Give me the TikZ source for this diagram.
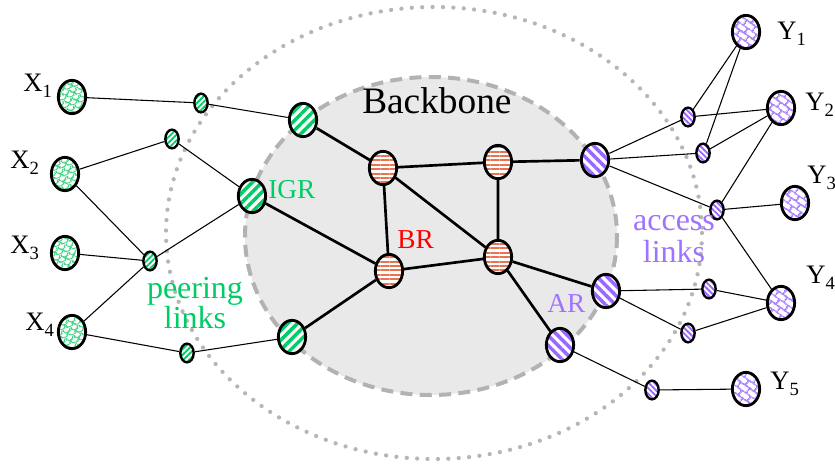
\documentclass[tikz,border=0pt]{standalone}
\usepackage{fontspec}
\setmainfont{Liberation Serif}
\usetikzlibrary{shapes.geometric,patterns.meta}

\definecolor{igrgreen}{RGB}{0,204,102}
\definecolor{scalegreen}{RGB}{60,210,130}
\definecolor{arpurple}{RGB}{153,102,255}
\definecolor{brickpurple}{RGB}{170,130,255}
\definecolor{brorange}{RGB}{232,115,80}
\definecolor{bbfill}{RGB}{233,233,233}
\definecolor{bbline}{RGB}{178,178,178}
\definecolor{dotgray}{RGB}{182,182,182}
\definecolor{labpurple}{RGB}{160,115,255}

% subscript of the host labels
\newcommand\lowsub[1]{\raisebox{-4.5pt}{\fontsize{14}{14}\selectfont #1}}

% fish-scale fill of the X hosts
\tikzdeclarepattern{
  name=fishscales,
  type=uncolored,
  bottom left={(0pt,0pt)},
  top right={(6pt,6pt)},
  tile size={(6pt,6pt)},
  tile transformation={rotate=20},
  code={
    \tikzset{line width=0.5pt}
    \draw (0pt,6pt) arc[start angle=180,end angle=360,radius=3pt];
    \draw (-3pt,3pt) arc[start angle=180,end angle=360,radius=3pt];
    \draw (3pt,3pt) arc[start angle=180,end angle=360,radius=3pt];
  }
}

% slanted brick fill of the Y hosts
\tikzdeclarepattern{
  name=slantbricks,
  type=uncolored,
  bottom left={(0pt,0pt)},
  top right={(8pt,9pt)},
  tile size={(8pt,9pt)},
  tile transformation={rotate=-35},
  code={
    \tikzset{line width=0.5pt}
    \draw (-1pt,0pt) -- (9pt,0pt) (-1pt,4.5pt) -- (9pt,4.5pt) (-1pt,9pt) -- (9pt,9pt);
    \draw (0pt,0pt) -- (0pt,4.5pt) (8pt,0pt) -- (8pt,4.5pt) (4pt,4.5pt) -- (4pt,9pt);
  }
}

\begin{document}
\begin{tikzpicture}[x=0.75pt,y=-0.75pt,
  bignode/.style={ellipse,draw=black,line width=2.1pt,minimum width=20.5pt,minimum height=25pt,inner sep=0pt,preaction={fill=white}},
  smallnode/.style={ellipse,draw=black,line width=1.8pt,minimum width=10pt,minimum height=14pt,inner sep=0pt,preaction={fill=white}},
  xhost/.style={bignode,pattern=fishscales,pattern color=scalegreen},
  yhost/.style={bignode,pattern=slantbricks,pattern color=brickpurple},
  igr/.style={bignode,pattern={Lines[angle=45,distance=5.2pt,line width=2.6pt]},pattern color=igrgreen},
  br/.style={bignode,pattern={Lines[angle=0,distance=3.3pt,line width=1.5pt]},pattern color=brorange},
  ar/.style={bignode,pattern={Lines[angle=-45,distance=5.2pt,line width=2.6pt]},pattern color=arpurple},
  peer/.style={smallnode,pattern={Lines[angle=45,distance=3pt,line width=1.4pt]},pattern color=igrgreen},
  acc/.style={smallnode,pattern={Lines[angle=-45,distance=3pt,line width=1.4pt]},pattern color=arpurple},
  thinlink/.style={line width=0.8pt},
  corelink/.style={line width=2pt},
  lab/.style={inner sep=0pt,anchor=base west},
  hostlab/.style={lab,font=\fontsize{20}{20}\selectfont},
  rolelab/.style={lab,font=\fontsize{20.5}{20.5}\selectfont},
  grouplab/.style={inner sep=0pt,anchor=base,font=\fontsize{24}{24}\selectfont}]

\useasboundingbox (0,0) rectangle (835,464);

% backbone area and the peering/access boundary
\fill[bbfill] (431,236) ellipse [x radius=186,y radius=159];
\draw[bbline,line width=3pt,dash pattern=on 9pt off 5.5pt] (431,236) ellipse [x radius=186,y radius=159];
\draw[dotgray,line width=3.2pt,line cap=round,dash pattern=on 0pt off 7.8pt] (434,233) ellipse [x radius=268,y radius=226];

% external hosts
\node[xhost] (X1) at (72,97) {};
\node[xhost] (X2) at (65,174) {};
\node[xhost] (X3) at (65,253) {};
\node[xhost] (X4) at (72,332) {};

% peering hubs
\node[peer] (p1) at (201,103) {};
\node[peer] (p2) at (172,139) {};
\node[peer] (p3) at (150,261) {};
\node[peer] (p4) at (187,353) {};

% ingress routers
\node[igr] (g1) at (303,120) {};
\node[igr] (g2) at (252,196) {};
\node[igr] (g3) at (292,337) {};

% backbone routers
\node[br] (b1) at (383,168) {};
\node[br] (b2) at (498,162) {};
\node[br] (b3) at (389,271) {};
\node[br] (b4) at (498,257) {};

% access routers
\node[ar] (a1) at (595,160) {};
\node[ar] (a2) at (606,291) {};
\node[ar] (a3) at (560,345) {};

% access hubs
\node[acc] (s1) at (688,117) {};
\node[acc] (s2) at (703,153) {};
\node[acc] (s3) at (717,210) {};
\node[acc] (s4) at (709,289) {};
\node[acc] (s5) at (688,333) {};
\node[acc] (s6) at (652,390) {};

% customer hosts
\node[yhost] (Y1) at (746,32) {};
\node[yhost] (Y2) at (781,108) {};
\node[yhost] (Y3) at (795,203) {};
\node[yhost] (Y4) at (781,303) {};
\node[yhost] (Y5) at (746,389) {};

% peering links
\draw[thinlink] (X1) -- (p1) (p1) -- (g1);
\draw[thinlink] (X2) -- (p2) (p2) -- (g2);
\draw[thinlink] (X2) -- (p3) (X3) -- (p3) (X4) -- (p3) (p3) -- (g2);
\draw[thinlink] (X4) -- (p4) (p4) -- (g3);

% backbone links
\draw[corelink] (g1) -- (b1) (g2) -- (b3) (g3) -- (b3);
\draw[corelink] (b1) -- (b2) (b1) -- (b3) (b1) -- (b4) (b2) -- (b4) (b3) -- (b4);
\draw[corelink] (b2) -- (a1) (b4) -- (a2) (b4) -- (a3);

% access links
\draw[thinlink] (a1) -- (s1) (a1) -- (s2) (a1) -- (s3);
\draw[thinlink] (s1) -- (Y1) (s1) -- (Y2) (s2) -- (Y1) (s2) -- (Y2);
\draw[thinlink] (s3) -- (Y2) (s3) -- (Y3) (s3) -- (Y4);
\draw[thinlink] (a2) -- (s4) (a2) -- (s5) (s4) -- (Y4) (s5) -- (Y4);
\draw[thinlink] (a3) -- (s6) (s6) -- (Y5);

% host labels
\node[hostlab] (lX1) at (23,91) {X\lowsub{1}};
\node[hostlab] (lX2) at (10,168) {X\lowsub{2}};
\node[hostlab] (lX3) at (10,253) {X\lowsub{3}};
\node[hostlab] (lX4) at (25,330) {X\lowsub{4}};
\node[hostlab] (lY1) at (777,39) {Y\lowsub{1}};
\node[hostlab] (lY2) at (805,110) {Y\lowsub{2}};
\node[hostlab] (lY3) at (807,183) {Y\lowsub{3}};
\node[hostlab] (lY4) at (806,283) {Y\lowsub{4}};
\node[hostlab] (lY5) at (770,389) {Y\lowsub{5}};

% role labels
\node[lab,font=\fontsize{28}{28}\selectfont] (lbb) at (362,113) {Backbone};
\node[rolelab,text=igrgreen] (ligr) at (268,198) {IGR};
\node[rolelab,text=red] (lbr) at (397,248) {BR};
\node[rolelab,text=labpurple] (lar) at (547,312) {AR};
\node[grouplab,text=igrgreen] (lpe1) at (195,298) {peering};
\node[grouplab,text=igrgreen] (lpe2) at (195,328) {links};
\node[grouplab,text=labpurple] (lac1) at (674,230) {access};
\node[grouplab,text=labpurple] (lac2) at (674,262) {links};
\end{tikzpicture}
\end{document}
